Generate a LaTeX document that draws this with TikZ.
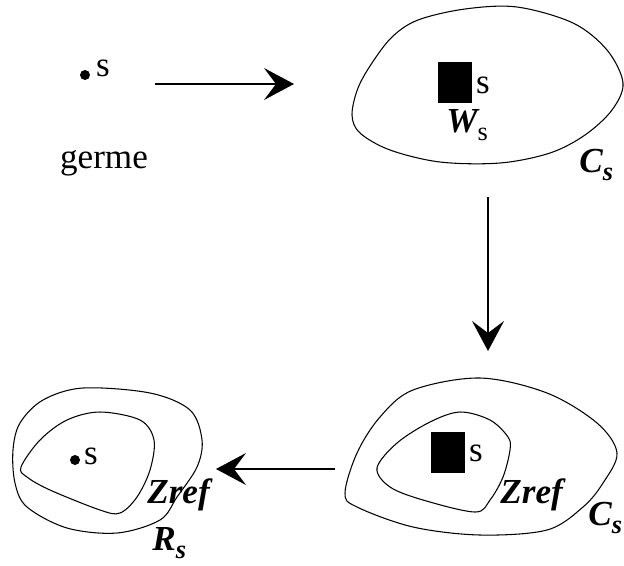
\documentclass[tikz,border=0pt]{standalone}
\usepackage{fontspec}
\setmainfont{Liberation Serif}
\usetikzlibrary{arrows.meta}

\tikzset{fleche/.style={-{Stealth[length=0.6cm,width=0.64cm,inset=0.24cm]},line width=.6pt},
         courbe/.style={line width=.6pt,smooth cycle,tension=.55},
         point/.style={circle,fill=black,inner sep=0pt,minimum size=.2cm},
         carre/.style={fill=black,inner sep=0pt,minimum width=.68cm,minimum height=.82cm},
         texte/.style={inner sep=0pt,font=\fontsize{20}{24}\selectfont},
         etiq/.style={inner sep=0pt,anchor=base west,font=\fontsize{20}{24}\selectfont\bfseries\itshape}}
\newcommand{\indice}[1]{\raisebox{-.25em}{\fontsize{15}{18}\selectfont #1}}

\begin{document}
\begin{tikzpicture}[x=.02cm,y=-.02cm]
  \useasboundingbox (0,0) rectangle (624,565);
  % germe
  \node[point] (s1) at (85,75) {};
  \node[texte] (l1) at (103,68) {s};
  \node[texte,anchor=base] (germe) at (104,168) {germe};
  %
  \coordinate (a1) at (155,84);
  \coordinate (b1) at (294,84);
  \draw[fleche] (a1) -- (b1);
  % C_s
  \draw[courbe] plot coordinates {(352,115) (358,88) (372,63) (392,37) (418,20) (465,9) (517,7)
        (573,23) (607,50) (623,83) (612,110) (585,135) (550,153) (500,163) (440,162) (390,150) (360,133)};
  \node[carre] (w1) at (455,82.5) {};
  \node[texte] (l2) at (483,85) {s};
  \node[etiq] (ws) at (446,132) {W\indice{\mdseries\upshape s}};
  \node[etiq] (cs1) at (579,172) {C\indice{s}};
  %
  \coordinate (a2) at (488,197);
  \coordinate (b2) at (488,351);
  \draw[fleche] (a2) -- (b2);
  % C_s et Zref
  \draw[courbe] plot coordinates {(345,493) (357,453) (380,417) (413,390) (480,378) (547,393)
        (597,423) (617,453) (603,483) (583,507) (547,530) (480,535) (413,527) (357,507)};
  \draw[courbe] plot coordinates {(377,468) (397,443) (430,422) (460,412) (490,420) (508,437)
        (510,450) (503,477) (490,500) (475,512) (423,500) (390,487)};
  \node[carre] (w2) at (448,452.5) {};
  \node[texte] (l3) at (476,453) {s};
  \node[etiq] (z1) at (500,503) {Zref};
  \node[etiq] (cs2) at (588,525) {C\indice{s}};
  %
  \coordinate (a3) at (335,469);
  \coordinate (b3) at (216,469);
  \draw[fleche] (a3) -- (b3);
  % R_s
  \draw[courbe] plot coordinates {(13,450) (20,423) (43,400) (83,388) (150,393) (190,410)
        (202,440) (197,467) (177,497) (160,520) (117,533) (67,528) (27,507) (15,483)};
  \draw[courbe] plot coordinates {(21,467) (40,440) (67,420) (100,412) (140,420) (154,440)
        (150,470) (137,497) (120,513) (100,510) (50,490) (27,477)};
  \node[point] (s2) at (75,460) {};
  \node[texte] (l4) at (91,456) {s};
  \node[etiq] (z2) at (147,503) {Zref};
  \node[etiq] (rs) at (152,550) {R\indice{s}};
\end{tikzpicture}
\end{document}
